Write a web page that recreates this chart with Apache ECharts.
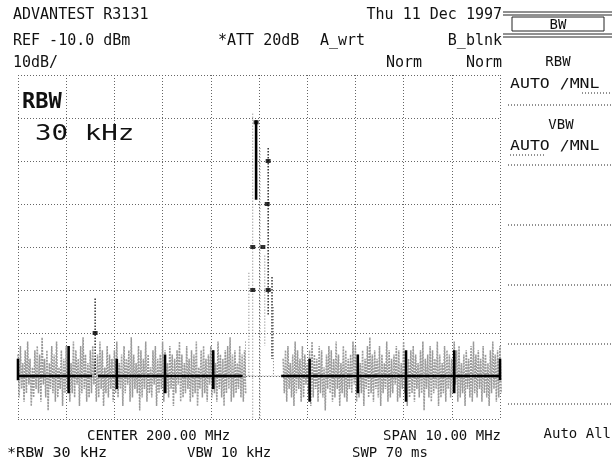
<!DOCTYPE html>
<html><head><meta charset="utf-8">
<script src="https://cdn.jsdelivr.net/npm/echarts@6/dist/echarts.min.js"></script>
<style>html,body{margin:0;padding:0;background:#fff}#c{width:613px;height:468px}</style>
</head><body><div id="c"></div><script>
// ---- axes ----
const freqMin = 195, freqMax = 205, freqStep = 1;      // MHz (center 200, span 10)
const levelMin = -90, levelMax = -10, levelStep = 10;  // dBm (ref -10, 10 dB/div)

// ---- noise floor (gray write trace), sampled every 0.05 MHz ----
const noiseStep = 0.05;
const noiseLeftStart = 195.0;
const noiseHiL = [-75,-73,-77,-74,-72,-76,-78,-74,-73,-75,-71,-76,-74,-77,-73,-75,-72,-78,-74,-76,
-73,-75,-77,-72,-74,-76,-73,-71,-75,-77,-74,-73,-76,-75,-72,-74,-78,-73,-75,-76,
-74,-72,-77,-75,-73,-76,-74,-71,-75,-77,-73,-74,-76,-72,-75,-78,-74,-73,-76,-75,
-72,-74,-77,-73,-75,-76,-74,-72,-75,-77,-73,-76,-74,-75,-72,-78,-74,-73,-76,-75,
-73,-74,-77,-72,-75,-76,-74,-73,-71,-75,-74,-77,-73,-75,-74];
const noiseLoL = [-85,-83,-86,-84,-82,-87,-85,-83,-84,-86,-82,-85,-88,-83,-84,-86,-85,-83,-87,-84,
-83,-86,-84,-85,-82,-87,-84,-83,-86,-85,-84,-82,-86,-85,-83,-87,-84,-85,-83,-86,
-84,-85,-83,-87,-84,-82,-86,-85,-83,-84,-88,-85,-83,-86,-84,-85,-82,-87,-84,-83,
-86,-84,-85,-83,-87,-84,-82,-86,-85,-84,-83,-86,-85,-84,-87,-83,-85,-84,-86,-82,
-85,-84,-86,-83,-85,-87,-84,-83,-86,-85,-84,-83,-85,-86,-84];
const noiseRightStart = 200.5;
const noiseHiR = [-76,-74,-73,-77,-75,-72,-74,-76,-73,-75,-77,-74,-72,-75,-76,-73,-74,-78,-75,-73,
-74,-76,-72,-75,-77,-73,-74,-76,-75,-72,-73,-75,-77,-74,-76,-73,-71,-75,-74,-76,
-73,-75,-77,-72,-74,-76,-75,-73,-74,-77,-72,-75,-76,-74,-73,-75,-77,-74,-72,-76,
-75,-73,-74,-76,-72,-75,-77,-73,-74,-75,-76,-72,-74,-73,-77,-75,-74,-76,-73,-72,
-75,-74,-76,-73,-75,-77,-74,-72,-75,-74,-73];
const noiseLoR = [-84,-86,-83,-85,-87,-84,-83,-86,-85,-82,-84,-87,-85,-83,-86,-84,-85,-88,-83,-84,
-86,-85,-83,-87,-84,-85,-86,-83,-84,-82,-86,-85,-84,-87,-83,-85,-84,-86,-83,-85,
-87,-84,-83,-86,-85,-84,-82,-86,-85,-83,-84,-87,-85,-84,-86,-83,-85,-84,-88,-83,
-85,-86,-84,-83,-87,-85,-84,-86,-83,-85,-84,-82,-86,-85,-84,-87,-83,-85,-86,-84,
-85,-83,-86,-84,-85,-87,-84,-83,-86,-85,-84];
const gapBaseline = [[199.70, -80], [200.50, -80]];

// ---- black (B) trace ----
const floorLevel = -80;
const blackSegStart = [195.0, 196.66, 200.46];
const blackSegEnd   = [196.54, 199.66, 205.0];
const gridMarkFreqs = [195.0, 196.05, 197.05, 198.05, 199.05, 201.05, 202.05, 203.05, 204.05, 205.0];
const gridMarkTop   = [-76, -73, -76, -75, -74, -76, -75, -74, -74, -76];
const gridMarkBot   = [-81, -84, -83, -84, -83, -86, -84, -86, -84, -81];

// ---- spur ----
const spurFreq = 196.6, spurTop = -62, spurBot = -80;

// ---- carrier ----
const carrierGrayFreqs = [199.72, 199.79, 199.87, 200.02, 200.12, 200.30];
const carrierGrayTop   = [-72, -56, -19, -27, -52, -64];
const carrierGrayBot   = [-80, -80, -90, -90, -73, -80];
const carrierBlackFreq = 199.94, carrierBlackTop = -20.5, carrierBlackBot = -39;
const carrierDotFreqs = [200.19, 200.27];
const carrierDotTop   = [-27, -57];
const carrierDotBot   = [-66, -76];
const markerFreqs  = [199.94, 200.19, 200.17, 199.87, 200.08, 199.87, 200.19, 196.6];
const markerLevels = [-21, -30, -40, -50, -50, -60, -60, -70];

// ---- build data ----
function zig(start, hi, lo) {
  const out = [];
  for (let i = 0; i < hi.length; i++) {
    const f = start + i * noiseStep;
    out.push([f, hi[i]], [f + noiseStep / 2, lo[i]]);
  }
  return out;
}
const noiseData = zig(noiseLeftStart, noiseHiL, noiseLoL).concat([[199.72, '-']], zig(noiseRightStart, noiseHiR, noiseLoR));

function verticals(fs, tops, bots) {
  const out = [];
  for (let i = 0; i < fs.length; i++) out.push([fs[i], tops[i]], [fs[i], bots[i]], [fs[i], '-']);
  return out;
}
const blackData = [];
for (let i = 0; i < blackSegStart.length; i++) blackData.push([blackSegStart[i], floorLevel], [blackSegEnd[i], floorLevel], [blackSegEnd[i], '-']);
const blackTicks = verticals(gridMarkFreqs, gridMarkTop, gridMarkBot)
  .concat(verticals([carrierBlackFreq], [carrierBlackTop], [carrierBlackBot]));
const grayCarrier = verticals(carrierGrayFreqs, carrierGrayTop, carrierGrayBot);
const dotCarrier = verticals(carrierDotFreqs.concat([spurFreq]), carrierDotTop.concat([spurTop]), carrierDotBot.concat([spurBot]));
const markers = markerFreqs.map((f, i) => [f, markerLevels[i]]);

// ---- chart ----
const mono = "'DejaVu Sans Mono', monospace";
function txt(text, x, y, o) {
  o = o || {};
  return { type: 'text', x: x, y: y, scaleX: o.sx || 1, z: 100,
    style: { text: text, fill: '#111', font: (o.w || 'normal') + ' ' + (o.fs || 15) + 'px ' + mono,
      textAlign: o.align || 'left', textVerticalAlign: 'middle' } };
}
function ln(x1, y1, x2, y2, dash, w) {
  return { type: 'line', z: 100, shape: { x1: x1, y1: y1, x2: x2, y2: y2 },
    style: { stroke: '#222', lineWidth: w || 1, lineDash: dash || null } };
}
const dots = [1, 2];
const graphics = [
  txt('ADVANTEST R3131', 13, 15),
  txt('Thu 11 Dec 1997', 502, 15, { align: 'right' }),
  txt('REF -10.0 dBm', 13, 41),
  txt('*ATT 20dB', 218, 41),
  txt('A_wrt', 320, 41),
  txt('B_blnk', 502, 41, { align: 'right' }),
  txt('10dB/', 13, 63),
  txt('Norm', 386, 63),
  txt('Norm', 502, 63, { align: 'right' }),
  txt('RBW', 22, 103, { fs: 21, w: 'bold', sx: 1.05 }),
  txt('30 kHz', 35, 134, { fs: 22, sx: 1.25 }),
  txt('CENTER 200.00 MHz', 87, 436, { fs: 14 }),
  txt('SPAN 10.00 MHz', 501, 436, { align: 'right', fs: 14 }),
  txt('*RBW 30 kHz', 7, 453, { fs: 14, sx: 1.08 }),
  txt('VBW 10 kHz', 187, 453, { fs: 14 }),
  txt('SWP 70 ms', 352, 453, { fs: 14 }),
  txt('Auto All', 611, 434, { align: 'right', fs: 14 }),
  // right soft-key panel
  ln(503, 12, 612, 12), ln(503, 15, 612, 15),
  ln(512, 17, 604, 17), ln(512, 31, 604, 31), ln(512, 17, 512, 31), ln(604, 17, 604, 31),
  ln(503, 34, 612, 34), ln(503, 37, 612, 37),
  txt('BW', 558, 25, { align: 'center', fs: 14 }),
  txt('RBW', 558, 62, { align: 'center', fs: 14 }),
  txt('AUTO /MNL', 510, 84, { fs: 14, sx: 1.18 }),
  ln(582, 93, 611, 93, dots),
  ln(508, 105, 612, 105, dots),
  txt('VBW', 561, 125, { align: 'center', fs: 14 }),
  txt('AUTO /MNL', 510, 146, { fs: 14, sx: 1.18 }),
  ln(510, 155, 546, 155, dots),
  ln(508, 165, 612, 165, dots),
  ln(508, 225, 612, 225, dots),
  ln(508, 285, 612, 285, dots),
  ln(508, 344, 612, 344, dots),
  ln(508, 404, 612, 404, dots)
];

const chart = echarts.init(document.getElementById('c'), null, { renderer: 'canvas' });
chart.setOption({
  animation: false,
  backgroundColor: '#fff',
  grid: { left: 18, top: 75, width: 482, height: 344, containLabel: false },
  xAxis: { type: 'value', min: freqMin, max: freqMax, interval: freqStep,
    axisLine: { show: false }, axisTick: { show: false }, axisLabel: { show: false },
    splitLine: { show: true, lineStyle: { color: '#666', width: 1, type: dots } } },
  yAxis: { type: 'value', min: levelMin, max: levelMax, interval: levelStep,
    axisLine: { show: false }, axisTick: { show: false }, axisLabel: { show: false },
    splitLine: { show: true, lineStyle: { color: '#666', width: 1, type: dots } } },
  graphic: graphics,
  series: [
    { type: 'line', data: noiseData, showSymbol: false, connectNulls: false,
      lineStyle: { color: '#9a9a9a', width: 1.5, type: [2, 1] }, z: 2 },
    { type: 'line', data: gapBaseline, showSymbol: false,
      lineStyle: { color: '#888', width: 1, type: dots }, z: 2 },
    { type: 'line', data: grayCarrier, showSymbol: false, connectNulls: false,
      lineStyle: { color: '#777', width: 1, type: dots }, z: 3 },
    { type: 'line', data: blackData, showSymbol: false, connectNulls: false,
      lineStyle: { color: '#000', width: 2.6 }, z: 5 },
    { type: 'line', data: blackTicks, showSymbol: false, connectNulls: false,
      lineStyle: { color: '#000', width: 2.6 }, z: 5 },
    { type: 'line', data: dotCarrier, showSymbol: false, connectNulls: false,
      lineStyle: { color: '#000', width: 1.2, type: [1.5, 1.5] }, z: 4 },
    { type: 'scatter', data: markers, symbol: 'rect', symbolSize: [5, 4],
      itemStyle: { color: '#000' }, z: 6 }
  ]
});
</script></body></html>
